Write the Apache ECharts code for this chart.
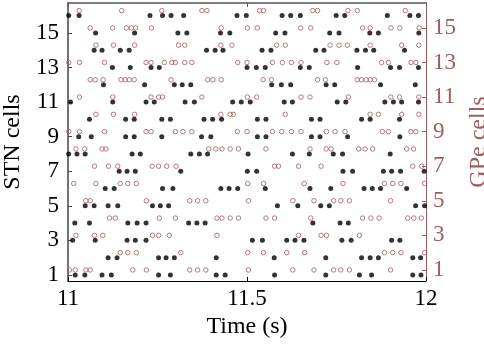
<!DOCTYPE html>
<html>
<head>
<meta charset="utf-8">
<script src="https://cdn.jsdelivr.net/npm/echarts@6/dist/echarts.min.js"></script>
<style>
html,body{margin:0;padding:0;background:#fff;}
#chart{width:484px;height:346px;}
</style>
</head>
<body>
<div id="chart"></div>
<script>
// Spike times (s), one list per cell (index 0 = cell 1)
const stnSpikes = [
  [11.020, 11.047, 11.095, 11.121, 11.253, 11.286, 11.414, 11.439, 11.577, 11.720, 11.814, 11.848, 11.963, 11.986],
  [11.112, 11.137, 11.253, 11.274, 11.297, 11.414, 11.576, 11.720, 11.820, 11.844, 11.867, 11.963, 11.985],
  [11.013, 11.076, 11.165, 11.188, 11.218, 11.515, 11.543, 11.611, 11.634, 11.659, 11.765, 11.791, 11.904, 11.927],
  [11.019, 11.060, 11.167, 11.193, 11.218, 11.337, 11.360, 11.383, 11.684, 11.760, 11.783],
  [11.048, 11.073, 11.112, 11.139, 11.236, 11.258, 11.281, 11.585, 11.642, 11.706, 11.730, 11.971, 11.996],
  [11.104, 11.129, 11.264, 11.293, 11.427, 11.450, 11.474, 11.551, 11.676, 11.734, 11.827, 11.850, 11.873, 11.946],
  [11.143, 11.165, 11.188, 11.315, 11.501, 11.527, 11.768, 11.795, 11.881, 11.904, 11.929, 11.995],
  [11.002, 11.025, 11.048, 11.179, 11.202, 11.343, 11.367, 11.390, 11.503, 11.627, 11.674, 11.741, 11.767, 11.900],
  [11.030, 11.065, 11.161, 11.185, 11.262, 11.373, 11.399, 11.529, 11.553, 11.680, 11.704, 11.781, 11.927],
  [11.060, 11.161, 11.185, 11.262, 11.286, 11.380, 11.404, 11.429, 11.529, 11.553, 11.680, 11.704, 11.820, 11.844, 11.926],
  [11.007, 11.125, 11.218, 11.241, 11.327, 11.353, 11.460, 11.484, 11.509, 11.604, 11.627, 11.752, 11.776, 11.885, 11.909, 11.932, 11.979],
  [11.099, 11.214, 11.297, 11.319, 11.343, 11.569, 11.596, 11.622, 11.721, 11.745, 11.873, 11.970],
  [11.124, 11.174, 11.232, 11.255, 11.500, 11.526, 11.551, 11.649, 11.674, 11.809, 11.901, 11.926, 11.979],
  [11.073, 11.095, 11.146, 11.171, 11.387, 11.411, 11.433, 11.542, 11.567, 11.692, 11.715, 11.807, 11.831, 11.854, 11.940],
  [11.077, 11.186, 11.307, 11.332, 11.426, 11.452, 11.580, 11.606, 11.731, 11.757, 11.843, 11.867, 11.980],
  [11.002, 11.031, 11.229, 11.264, 11.288, 11.323, 11.472, 11.498, 11.598, 11.622, 11.649, 11.749, 11.773, 11.892, 11.955, 11.979]
];
const gpeSpikes = [
  [11.004, 11.020, 11.050, 11.062, 11.181, 11.219, 11.340, 11.362, 11.385, 11.504, 11.628, 11.687, 11.742, 11.762, 11.786, 11.901],
  [11.146, 11.167, 11.191, 11.315, 11.502, 11.546, 11.611, 11.661, 11.884, 11.907, 11.930, 11.996],
  [11.022, 11.074, 11.097, 11.236, 11.253, 11.283, 11.416, 11.644, 11.707, 11.722, 11.814],
  [11.116, 11.132, 11.255, 11.300, 11.416, 11.430, 11.453, 11.476, 11.553, 11.577, 11.678, 11.823, 11.846, 11.869, 11.949, 11.966, 11.987],
  [11.050, 11.062, 11.219, 11.340, 11.362, 11.385, 11.504, 11.628, 11.687, 11.742, 11.762, 11.786, 11.901],
  [11.016, 11.078, 11.146, 11.167, 11.191, 11.502, 11.546, 11.660, 11.768, 11.884, 11.907, 11.930, 11.996],
  [11.074, 11.113, 11.139, 11.235, 11.253, 11.276, 11.302, 11.577, 11.588, 11.644, 11.707, 11.963, 11.988],
  [11.022, 11.047, 11.095, 11.106, 11.393, 11.413, 11.430, 11.453, 11.476, 11.553, 11.676, 11.721, 11.735, 11.812, 11.830, 11.851, 11.946, 11.965],
  [11.002, 11.032, 11.102, 11.218, 11.232, 11.300, 11.321, 11.346, 11.473, 11.500, 11.571, 11.597, 11.624, 11.651, 11.722, 11.746, 11.774, 11.878, 11.895, 11.958, 11.972],
  [11.078, 11.127, 11.186, 11.427, 11.453, 11.462, 11.607, 11.844, 11.867, 11.932, 11.980],
  [11.032, 11.125, 11.232, 11.253, 11.264, 11.374, 11.501, 11.527, 11.651, 11.676, 11.783, 11.902, 11.926, 11.980],
  [11.062, 11.076, 11.098, 11.148, 11.160, 11.171, 11.185, 11.288, 11.390, 11.405, 11.428, 11.545, 11.568, 11.697, 11.719, 11.808, 11.820, 11.833, 11.844, 11.856],
  [11.002, 11.032, 11.102, 11.218, 11.232, 11.269, 11.290, 11.300, 11.326, 11.346, 11.474, 11.500, 11.571, 11.599, 11.624, 11.651, 11.723, 11.751, 11.876, 11.895, 11.958, 11.972],
  [11.078, 11.127, 11.186, 11.309, 11.326, 11.427, 11.458, 11.583, 11.607, 11.732, 11.757, 11.780, 11.844, 11.932, 11.980],
  [11.062, 11.125, 11.163, 11.177, 11.189, 11.233, 11.428, 11.501, 11.529, 11.650, 11.678, 11.823, 11.844, 11.902, 11.927, 11.981],
  [11.031, 11.150, 11.262, 11.374, 11.388, 11.535, 11.546, 11.684, 11.697, 11.782, 11.808, 11.942]
];
const xTicks = [11, 11.5, 12];
const yTicks = [1, 3, 5, 7, 9, 11, 13, 15];

const GPE_COLOR = '#A05C5C';
const FONT = 'Liberation Serif';

function toPoints(spikes) {
  const pts = [];
  spikes.forEach((times, i) => times.forEach(t => pts.push([t, i + 1])));
  return pts;
}

const chart = echarts.init(document.getElementById('chart'), null, {renderer: 'canvas'});
chart.setOption({
  animation: false,
  backgroundColor: '#fff',
  grid: {left: 68, right: 58, top: 3, bottom: 65, containLabel: false, outerBoundsMode: 'none'},
  xAxis: [{
    type: 'value', min: 11, max: 12, position: 'bottom',
    axisLine: {show: true, lineStyle: {color: '#000', width: 1}},
    axisTick: {show: true, inside: true, length: 4, customValues: xTicks, lineStyle: {color: '#000'}},
    axisLabel: {show: true, customValues: xTicks, margin: 6, color: '#000', fontFamily: FONT, fontSize: 23,
      formatter: v => String(v)},
    splitLine: {show: false},
    name: 'Time (s)', nameLocation: 'middle', nameGap: 34,
    nameTextStyle: {color: '#000', fontFamily: FONT, fontSize: 24}
  }, {
    type: 'value', min: 11, max: 12, position: 'top',
    axisLine: {show: true, lineStyle: {color: '#555', width: 1.5}},
    axisTick: {show: true, inside: true, length: 4, customValues: xTicks, lineStyle: {color: '#555'}},
    axisLabel: {show: false},
    splitLine: {show: false}
  }],
  yAxis: [{
    type: 'value', min: 0.65, max: 16.73, position: 'left',
    axisLine: {show: true, lineStyle: {color: '#444', width: 1.5}},
    axisTick: {show: true, inside: true, length: 4, customValues: yTicks, lineStyle: {color: '#444'}},
    axisLabel: {show: true, customValues: yTicks, margin: 9, color: '#000', fontFamily: FONT, fontSize: 23},
    splitLine: {show: false},
    name: 'STN cells', nameLocation: 'middle', nameGap: 38,
    nameTextStyle: {color: '#000', fontFamily: FONT, fontSize: 24}
  }, {
    type: 'value', min: 0.36, max: 16.44, position: 'right',
    axisLine: {show: true, lineStyle: {color: GPE_COLOR, width: 1}},
    axisTick: {show: true, inside: true, length: 4, customValues: yTicks, lineStyle: {color: GPE_COLOR}},
    axisLabel: {show: true, customValues: yTicks, margin: 7, color: GPE_COLOR, fontFamily: FONT, fontSize: 23},
    splitLine: {show: false},
    name: 'GPe cells', nameLocation: 'middle', nameGap: 36, nameRotate: 90,
    nameTextStyle: {color: GPE_COLOR, fontFamily: FONT, fontSize: 24}
  }],
  series: [{
    name: 'STN', type: 'scatter', xAxisIndex: 0, yAxisIndex: 0,
    symbol: 'circle', symbolSize: 5, clip: false,
    itemStyle: {color: '#000'},
    data: toPoints(stnSpikes)
  }, {
    name: 'GPe', type: 'scatter', xAxisIndex: 0, yAxisIndex: 1,
    symbol: 'circle', symbolSize: 4.5, clip: false,
    itemStyle: {color: 'rgba(255,255,255,0)', borderColor: GPE_COLOR, borderWidth: 1},
    data: toPoints(gpeSpikes)
  }]
});
</script>
</body>
</html>
